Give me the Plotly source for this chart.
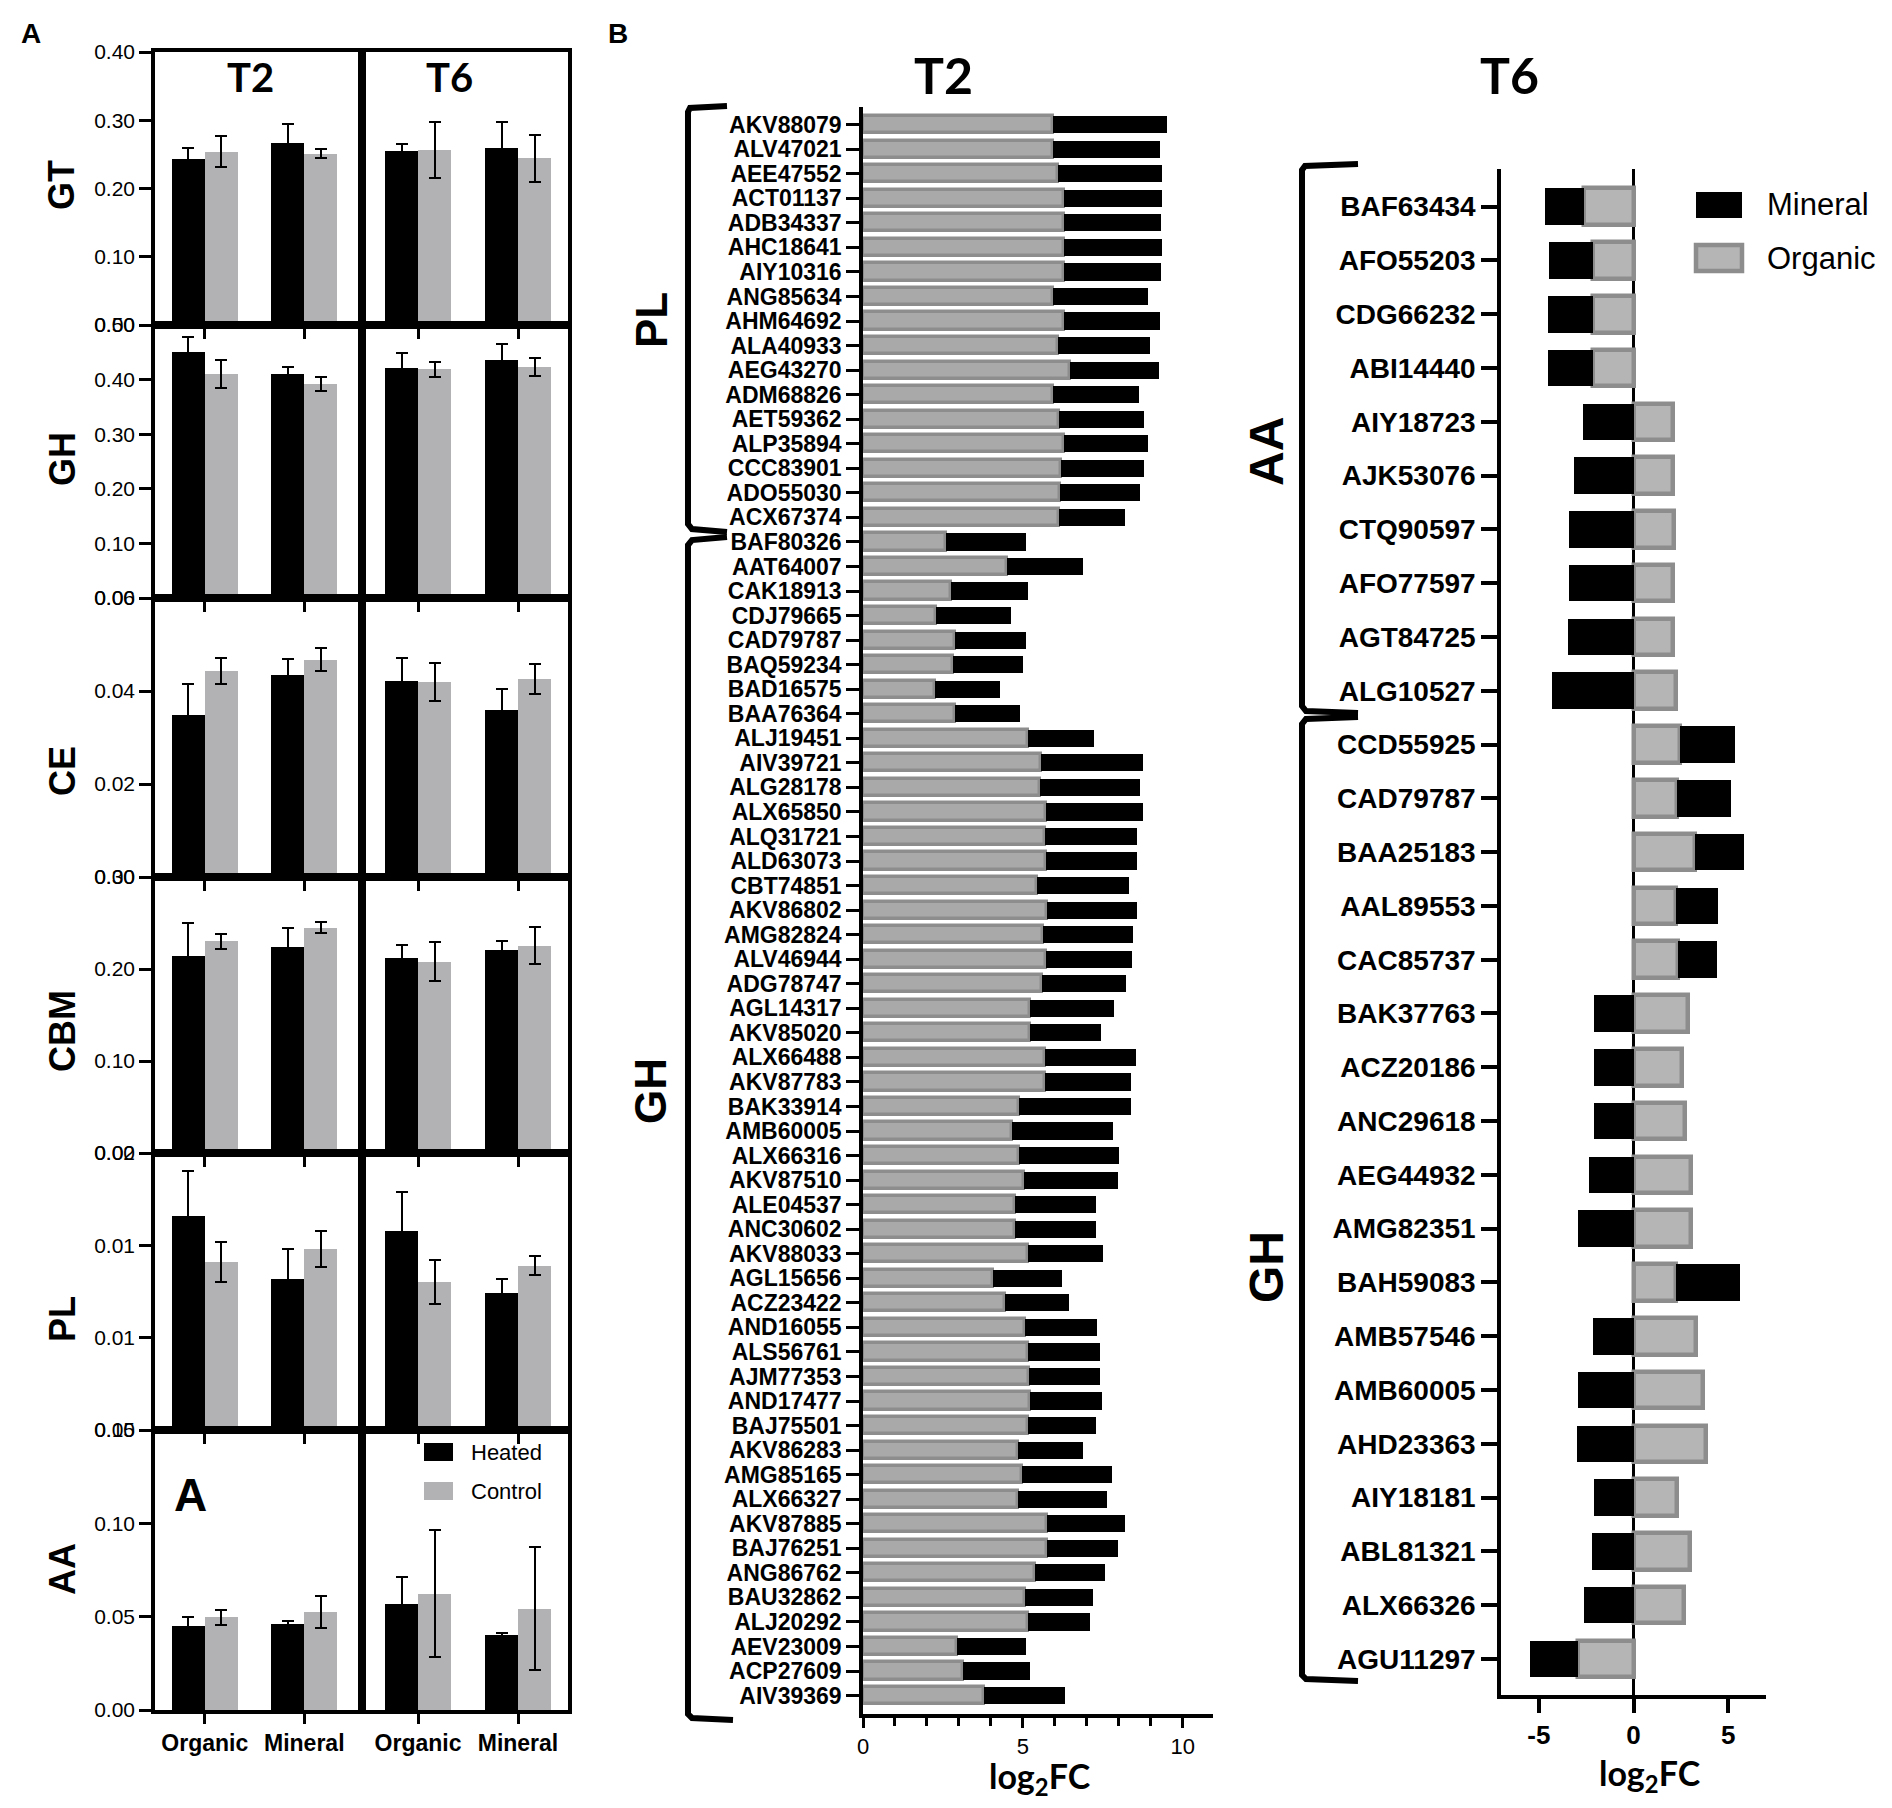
import plotly.graph_objects as go

# Reference canvas 1892x1808; the page body has an 8px default margin, so the
# figure is made 16px smaller and all placements are shifted by that offset.
W, H = 1892, 1808
OFF = 8
FW, FH = W - 2 * OFF, H - 2 * OFF
def fx(px): return (px - OFF) / FW
def fy(py): return 1 - (py - OFF) / FH

FONT = "Liberation Sans"
TFONT = "Lato"

# ---------------- Panel A data (order: T2 Organic, T2 Mineral, T6 Organic, T6 Mineral)
groups = ["Organic", "Mineral"]
times = ["T2", "T6"]
families = ["GT", "GH", "CE", "CBM", "PL", "AA"]
conditions = ["Heated", "Control"]

GT_heated = [0.243, 0.266, 0.255, 0.260]
GT_heated_err = [0.016, 0.028, 0.010, 0.038]
GT_control = [0.254, 0.251, 0.257, 0.244]
GT_control_err = [0.023, 0.007, 0.041, 0.035]

GH_heated = [0.450, 0.410, 0.421, 0.435]
GH_heated_err = [0.028, 0.013, 0.028, 0.031]
GH_control = [0.410, 0.392, 0.419, 0.423]
GH_control_err = [0.026, 0.013, 0.014, 0.016]

CE_heated = [0.0348, 0.0434, 0.0421, 0.0359]
CE_heated_err = [0.0067, 0.0035, 0.0050, 0.0045]
CE_control = [0.0443, 0.0467, 0.0419, 0.0426]
CE_control_err = [0.0028, 0.0025, 0.0041, 0.0032]

CBM_heated = [0.214, 0.224, 0.212, 0.221]
CBM_heated_err = [0.036, 0.021, 0.014, 0.009]
CBM_control = [0.230, 0.245, 0.208, 0.2255]
CBM_control_err = [0.008, 0.006, 0.021, 0.020]

PL_heated = [0.0116, 0.0082, 0.0108, 0.0074]
PL_heated_err = [0.0024, 0.0016, 0.0021, 0.0008]
PL_control = [0.0091, 0.0098, 0.0080, 0.0089]
PL_control_err = [0.0011, 0.0010, 0.0012, 0.0005]

AA_heated = [0.0448, 0.0459, 0.057, 0.040]
AA_heated_err = [0.005, 0.002, 0.014, 0.0014]
AA_control = [0.0496, 0.0524, 0.0624, 0.0543]
AA_control_err = [0.004, 0.0086, 0.034, 0.033]

A_data = {
    "GT": (GT_heated, GT_heated_err, GT_control, GT_control_err),
    "GH": (GH_heated, GH_heated_err, GH_control, GH_control_err),
    "CE": (CE_heated, CE_heated_err, CE_control, CE_control_err),
    "CBM": (CBM_heated, CBM_heated_err, CBM_control, CBM_control_err),
    "PL": (PL_heated, PL_heated_err, PL_control, PL_control_err),
    "AA": (AA_heated, AA_heated_err, AA_control, AA_control_err),
}

A_ymax = {"GT": 0.40, "GH": 0.50, "CE": 0.06, "CBM": 0.30, "PL": 0.015, "AA": 0.15}
A_tickvals = {
    "GT": [0, 0.1, 0.2, 0.3, 0.4],
    "GH": [0, 0.1, 0.2, 0.3, 0.4, 0.5],
    "CE": [0, 0.02, 0.04, 0.06],
    "CBM": [0, 0.1, 0.2, 0.3],
    "PL": [0, 0.005, 0.010, 0.015],
    "AA": [0, 0.05, 0.10, 0.15],
}
A_ticktext = {
    "GT": ["0.00", "0.10", "0.20", "0.30", "0.40"],
    "GH": ["0.00", "0.10", "0.20", "0.30", "0.40", "0.50"],
    "CE": ["0.00", "0.02", "0.04", "0.06"],
    "CBM": ["0.00", "0.10", "0.20", "0.30"],
    "PL": ["0.00", "0.01", "0.01", "0.02"],
    "AA": ["0.00", "0.05", "0.10", "0.15"],
}

# ---------------- Panel B data
t2_labels = ["AKV88079", "ALV47021", "AEE47552", "ACT01137", "ADB34337", "AHC18641", "AIY10316",
             "ANG85634", "AHM64692", "ALA40933", "AEG43270", "ADM68826", "AET59362", "ALP35894",
             "CCC83901", "ADO55030", "ACX67374",
             "BAF80326", "AAT64007", "CAK18913", "CDJ79665", "CAD79787", "BAQ59234", "BAD16575",
             "BAA76364", "ALJ19451", "AIV39721", "ALG28178", "ALX65850", "ALQ31721", "ALD63073",
             "CBT74851", "AKV86802", "AMG82824", "ALV46944", "ADG78747", "AGL14317", "AKV85020",
             "ALX66488", "AKV87783", "BAK33914", "AMB60005", "ALX66316", "AKV87510", "ALE04537",
             "ANC30602", "AKV88033", "AGL15656", "ACZ23422", "AND16055", "ALS56761", "AJM77353",
             "AND17477", "BAJ75501", "AKV86283", "AMG85165", "ALX66327", "AKV87885", "BAJ76251",
             "ANG86762", "BAU32862", "ALJ20292", "AEV23009", "ACP27609", "AIV39369"]
t2_organic = [5.94, 5.94, 6.09, 6.28, 6.28, 6.28, 6.28, 5.94, 6.28, 6.09, 6.47, 5.94, 6.13, 6.28,
              6.20, 6.17, 6.13,
              2.59, 4.51, 2.74, 2.29, 2.89, 2.82, 2.26, 2.89, 5.15, 5.56, 5.53, 5.71, 5.68, 5.71,
              5.45, 5.75, 5.64, 5.71, 5.60, 5.23, 5.23, 5.68, 5.68, 4.89, 4.66, 4.89, 5.04, 4.77,
              4.77, 5.15, 4.06, 4.44, 5.08, 5.15, 5.19, 5.23, 5.15, 4.85, 4.96, 4.85, 5.75, 5.75,
              5.38, 5.08, 5.15, 2.93, 3.12, 3.80]
t2_mineral = [3.57, 3.35, 3.27, 3.08, 3.04, 3.08, 3.04, 2.97, 3.01, 2.89, 2.78, 2.71, 2.67, 2.63,
              2.60, 2.51, 2.07,
              2.52, 2.37, 2.41, 2.33, 2.22, 2.18, 2.03, 2.03, 2.07, 3.20, 3.15, 3.05, 2.89, 2.86,
              2.86, 2.82, 2.82, 2.71, 2.63, 2.63, 2.21, 2.85, 2.70, 3.49, 3.16, 3.11, 2.93, 2.52,
              2.52, 2.37, 2.18, 1.99, 2.25, 2.26, 2.22, 2.25, 2.14, 2.03, 2.82, 2.78, 2.45, 2.22,
              2.18, 2.10, 1.96, 2.18, 2.11, 2.52]

t6_labels = ["BAF63434", "AFO55203", "CDG66232", "ABI14440", "AIY18723", "AJK53076", "CTQ90597",
             "AFO77597", "AGT84725", "ALG10527",
             "CCD55925", "CAD79787", "BAA25183", "AAL89553", "CAC85737", "BAK37763", "ACZ20186",
             "ANC29618", "AEG44932", "AMG82351", "BAH59083", "AMB57546", "AMB60005", "AHD23363",
             "AIY18181", "ABL81321", "ALX66326", "AGU11297"]
t6_organic = [-2.63, -2.14, -2.14, -2.14, 2.08, 2.08, 2.14, 2.08, 2.08, 2.25,
              2.47, 2.30, 3.24, 2.25, 2.36, 2.89, 2.56, 2.74, 3.06, 3.06, 2.25, 3.28, 3.68, 3.83,
              2.30, 3.00, 2.69, -2.91]
t6_mineral = [-2.03, -2.32, -2.39, -2.39, -2.65, -3.13, -3.39, -3.39, -3.46, -4.31,
              2.89, 2.84, 2.60, 2.21, 2.04, -2.08, -2.08, -2.08, -2.34, -2.91, 3.37, -2.12, -2.91,
              -3.00, -2.08, -2.17, -2.60, -2.56]
t6_ticks = [-5, 0, 5]
t6_ticktext = ["-5", "0", "5"]
series_B = ["Mineral", "Organic"]

BLACK = "#000000"
CTRL_GRAY = "#b2b2b4"
ORG_FILL = "#b5b5b5"
ORG_FILL_T2 = "#a9a9a9"
ORG_LINE = "#8d8d8d"

fig = go.Figure()
layout = {}

# ---------------- Panel A subplots
row_edges = [52, 325, 598, 877, 1153, 1430, 1710]
col_edges = [(155, 362), (362, 568)]
col_ranges = [[-0.50, 1.58], [-0.56, 1.50]]
bw = 0.33
k = 0
for r, fam in enumerate(families):
    h, he, c, ce = A_data[fam]
    for ci, t in enumerate(times):
        k += 1
        xa = "x" if k == 1 else f"x{k}"
        ya = "y" if k == 1 else f"y{k}"
        sl = slice(ci * 2, ci * 2 + 2)
        fig.add_trace(go.Bar(
            x=[i - bw / 2 for i in range(len(groups))], y=h[sl], width=bw,
            marker=dict(color=BLACK, line=dict(width=0)),
            error_y=dict(type="data", array=he[sl], color="black", thickness=2, width=6),
            xaxis=xa, yaxis=ya, showlegend=False, name=conditions[0]))
        fig.add_trace(go.Bar(
            x=[i + bw / 2 for i in range(len(groups))], y=c[sl], width=bw,
            marker=dict(color=CTRL_GRAY, line=dict(width=0)),
            error_y=dict(type="data", array=ce[sl], color="black", thickness=2, width=6),
            xaxis=xa, yaxis=ya, showlegend=False, name=conditions[1]))
        x0, x1 = col_edges[ci]
        yt, yb = row_edges[r], row_edges[r + 1]
        bottom = (r == len(families) - 1)
        layout["xaxis" if k == 1 else f"xaxis{k}"] = dict(
            domain=[fx(x0), fx(x1)], range=col_ranges[ci], anchor=ya, automargin=False,
            tickmode="array", tickvals=list(range(len(groups))), ticktext=groups,
            showticklabels=bottom, ticks="outside", ticklen=10, tickwidth=3, tickcolor="black",
            showline=True, mirror=True, linewidth=3.5, linecolor="black",
            showgrid=False, zeroline=False,
            tickfont=dict(family=FONT, size=23, color="black", weight="bold"))
        layout["yaxis" if k == 1 else f"yaxis{k}"] = dict(
            domain=[fy(yb), fy(yt)], range=[0, A_ymax[fam]], anchor=xa, automargin=False,
            tickmode="array", tickvals=A_tickvals[fam], ticktext=A_ticktext[fam],
            showticklabels=(ci == 0), ticks="outside" if ci == 0 else "",
            ticklen=12, tickwidth=3, tickcolor="black",
            showline=True, mirror=True, linewidth=3.5, linecolor="black",
            showgrid=False, zeroline=False,
            tickfont=dict(family=FONT, size=21, color="black"))

# ---------------- Panel B, T2
k += 1
xa2, ya2 = f"x{k}", f"y{k}"
fig.add_trace(go.Bar(y=t2_labels, x=t2_organic, orientation="h", width=0.7,
                     marker=dict(color=ORG_FILL_T2, line=dict(color=ORG_LINE, width=3.5)),
                     xaxis=xa2, yaxis=ya2, showlegend=False, name=series_B[1]))
fig.add_trace(go.Bar(y=t2_labels, x=t2_mineral, orientation="h", width=0.7,
                     marker=dict(color=BLACK, line=dict(width=0)),
                     xaxis=xa2, yaxis=ya2, showlegend=False, name=series_B[0]))
layout[f"xaxis{k}"] = dict(
    domain=[fx(863), fx(1213)], range=[0, 10.95], anchor=ya2, automargin=False,
    tickmode="linear", tick0=0, dtick=5, ticks="outside", ticklen=10, tickwidth=3,
    tickcolor="black",
    minor=dict(dtick=1, ticks="outside", ticklen=8, tickwidth=3, tickcolor="black"),
    showline=True, linewidth=4, linecolor="black", showgrid=False, zeroline=False,
    tickfont=dict(family=FONT, size=22, color="black"))
layout[f"yaxis{k}"] = dict(
    domain=[fy(1714), fy(107)], type="category", categoryorder="array",
    categoryarray=t2_labels, range=[len(t2_labels) - 0.25, -0.72], anchor=xa2,
    automargin=False,
    tickmode="array", tickvals=t2_labels, ticktext=t2_labels,
    ticks="outside", ticklen=13, tickwidth=3, tickcolor="black",
    showline=True, linewidth=3.5, linecolor="black", showgrid=False, zeroline=False,
    tickfont=dict(family=FONT, size=23, color="black", weight="bold"))

# ---------------- Panel B, T6
k += 1
xa6, ya6 = f"x{k}", f"y{k}"
fig.add_trace(go.Bar(y=t6_labels, x=t6_organic, orientation="h", width=0.68,
                     marker=dict(color=ORG_FILL, line=dict(color=ORG_LINE, width=4.5)),
                     xaxis=xa6, yaxis=ya6, showlegend=False, name=series_B[1]))
fig.add_trace(go.Bar(y=t6_labels, x=t6_mineral, orientation="h", width=0.68,
                     marker=dict(color=BLACK, line=dict(width=0)),
                     xaxis=xa6, yaxis=ya6, showlegend=False, name=series_B[0]))
layout[f"xaxis{k}"] = dict(
    domain=[fx(1501), fx(1766)], range=[-7, 7], anchor=ya6, automargin=False,
    tickmode="array", tickvals=t6_ticks, ticktext=t6_ticktext,
    ticks="outside", ticklen=14, tickwidth=3.5, tickcolor="black",
    showline=True, linewidth=4, linecolor="black", showgrid=False,
    zeroline=True, zerolinecolor="black", zerolinewidth=3,
    tickfont=dict(family=FONT, size=26, color="black", weight="bold"))
layout[f"yaxis{k}"] = dict(
    domain=[fy(1695), fy(169)], type="category", categoryorder="array",
    categoryarray=t6_labels, range=[len(t6_labels) - 0.33, -0.7], anchor=xa6,
    automargin=False,
    tickmode="array", tickvals=t6_labels, ticktext=t6_labels,
    ticks="outside", ticklen=16, tickwidth=3.5, tickcolor="black",
    showline=True, linewidth=3.5, linecolor="black", showgrid=False, zeroline=False,
    tickfont=dict(family=FONT, size=28, color="black", weight="bold"))

# ---------------- Annotations
ann = []
def text(x, y, s, size, family=FONT, bold=True, angle=0, xanchor="center", yanchor="middle"):
    ann.append(dict(x=fx(x), y=fy(y), xref="paper", yref="paper", text=s, showarrow=False,
                    textangle=angle, xanchor=xanchor, yanchor=yanchor,
                    font=dict(family=family, size=size, color="black",
                              weight="bold" if bold else "normal")))

text(31, 33, "A", 28)
text(618, 33, "B", 28)
text(250, 77, times[0], 40, family=TFONT)
text(449, 77, times[1], 40, family=TFONT)
label_y = {"GT": 185, "GH": 459, "CE": 771, "CBM": 1031, "PL": 1319, "AA": 1569}
for fam in families:
    text(62, label_y[fam], fam, 36, angle=-90)
text(190, 1495, "A", 46)

# Panel A legend
for i, (cond, col) in enumerate(zip(conditions, [BLACK, CTRL_GRAY])):
    yc = [1452, 1491][i]
    layout.setdefault("shapes", []).append(dict(
        type="rect", xref="paper", yref="paper", x0=fx(424), x1=fx(453),
        y0=fy(yc + 9), y1=fy(yc - 9), fillcolor=col, line=dict(width=0)))
    text(469, yc, cond, 22, bold=False, xanchor="left")

# Panel B titles & axis titles
text(943, 75, times[0], 50, family=TFONT)
text(1509, 75, times[1], 50, family=TFONT)
text(1040, 1753, "log<sub>2</sub>FC", 34, family=TFONT, yanchor="top")
text(1650, 1750, "log<sub>2</sub>FC", 34, family=TFONT, yanchor="top")
text(652, 320, "PL", 44, angle=-90)
text(650, 1091, "GH", 44, angle=-90)
text(1266, 452, "AA", 48, angle=-90)
text(1266, 1267, "GH", 48, angle=-90)

# T6 legend
leg_fill = [BLACK, ORG_FILL]
leg_line = [dict(width=0), dict(color=ORG_LINE, width=4.5)]
for i, s in enumerate(series_B):
    yc = [205, 258][i]
    layout["shapes"].append(dict(
        type="rect", xref="paper", yref="paper", x0=fx(1696), x1=fx(1742),
        y0=fy(yc + 13), y1=fy(yc - 13), fillcolor=leg_fill[i], line=leg_line[i]))
    text(1765, yc, s, 31, bold=False, xanchor="left")

# Brackets
def path(pts):
    d = "M " + " L ".join(f"{fx(x):.5f},{fy(y):.5f}" for x, y in pts)
    return dict(type="path", xref="paper", yref="paper", path=d,
                line=dict(color="black", width=6))
layout["shapes"] += [
    path([(727, 106), (690, 108), (688, 112), (688, 524), (692, 529), (727, 532)]),
    path([(727, 537), (692, 540), (688, 545), (688, 1714), (692, 1718), (733, 1720)]),
    path([(1358, 164), (1305, 166), (1302, 170), (1302, 706), (1306, 711), (1358, 713)]),
    path([(1358, 717), (1306, 719), (1302, 724), (1302, 1675), (1306, 1679), (1358, 1681)]),
]

fig.update_layout(
    width=FW, height=FH, margin=dict(l=0, r=0, t=0, b=0, autoexpand=False),
    paper_bgcolor="white", plot_bgcolor="white",
    barmode="relative", bargap=0, showlegend=False,
    annotations=ann, **layout)

fig.write_html("out.html")
